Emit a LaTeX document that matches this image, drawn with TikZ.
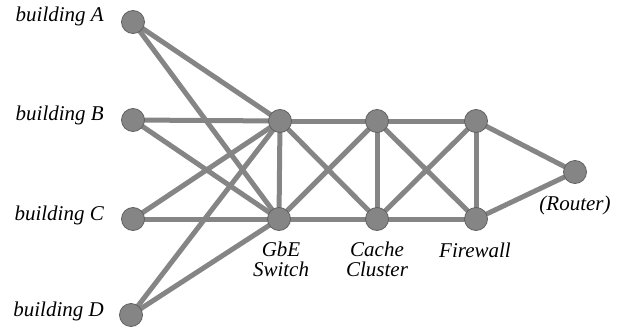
\documentclass[tikz,border=0pt]{standalone}
\usepackage{fontspec}
\setmainfont{Liberation Serif}
\usetikzlibrary{backgrounds}
\begin{document}
\begin{tikzpicture}[x=1pt,y=-1pt,
  link/.style={draw=black!48, line width=5pt},
  hub/.style={circle, fill=black!48, draw=black!62, line width=0.8pt, minimum size=23pt, inner sep=0pt},
  lbl/.style={font=\itshape\fontsize{21}{20}\selectfont, inner sep=0pt, align=center}]
\useasboundingbox (0,0) rectangle (624,329);
% hubs
\node[hub] (A)  at (133,22)  {};
\node[hub] (B)  at (133,120) {};
\node[hub] (C)  at (133,219) {};
\node[hub] (D)  at (131,315) {};
\node[hub] (S1) at (280,121) {};
\node[hub] (S2) at (279,219) {};
\node[hub] (K1) at (377,121) {};
\node[hub] (K2) at (377,219) {};
\node[hub] (F1) at (476,121) {};
\node[hub] (F2) at (476,219) {};
\node[hub] (R)  at (575,172) {};
% labels
\node[lbl, anchor=base east] (lA) at (104,22)  {building A};
\node[lbl, anchor=base east] (lB) at (104,120) {building B};
\node[lbl, anchor=base east] (lC) at (104,220) {building C};
\node[lbl, anchor=base east] (lD) at (104,316) {building D};
\node[lbl, anchor=base] (lS) at (281,276) {GbE\\Switch};
\node[lbl, anchor=base] (lK) at (377,276) {Cache\\Cluster};
\node[lbl, anchor=base] (lF) at (475,257) {Firewall};
\node[lbl, anchor=base] (lR) at (575,210) {(Router)};
% links
\begin{scope}[on background layer]
\foreach \b in {A,B,C,D}{
  \draw[link] (\b.center) -- (S1.center);
  \draw[link] (\b.center) -- (S2.center);
}
\draw[link] (S1.center) -- (S2.center);
\draw[link] (S1.center) -- (K1.center);
\draw[link] (S2.center) -- (K2.center);
\draw[link] (S1.center) -- (K2.center);
\draw[link] (S2.center) -- (K1.center);
\draw[link] (K1.center) -- (K2.center);
\draw[link] (K1.center) -- (F1.center);
\draw[link] (K2.center) -- (F2.center);
\draw[link] (K1.center) -- (F2.center);
\draw[link] (K2.center) -- (F1.center);
\draw[link] (F1.center) -- (F2.center);
\draw[link] (F1.center) -- (R.center);
\draw[link] (F2.center) -- (R.center);
\end{scope}
\end{tikzpicture}
\end{document}
